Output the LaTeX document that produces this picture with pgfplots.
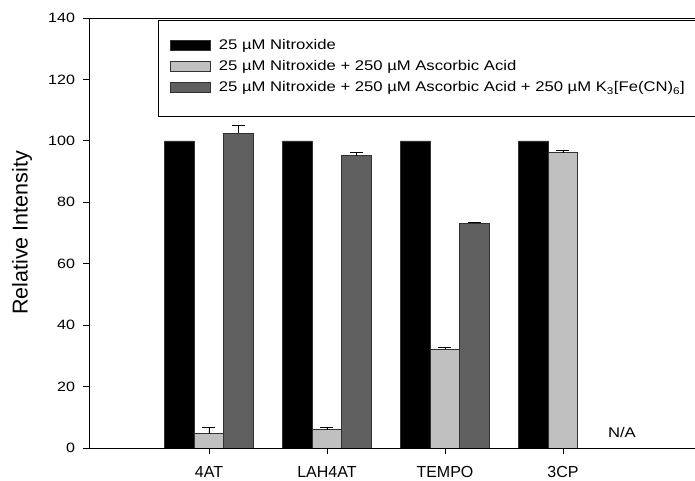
\documentclass[border=0pt]{standalone}
\usepackage{fontspec}
\setmainfont{Liberation Sans}[FakeStretch=1.19]
\newfontfamily\plainfont{Liberation Sans}
\usepackage{pgfplots}
\pgfplotsset{compat=1.18}
\definecolor{lightbar}{RGB}{192,192,192}
\definecolor{darkbar}{RGB}{96,96,96}
\definecolor{edge}{RGB}{50,50,50}
\begin{document}
\begin{tikzpicture}[font=\fontsize{14bp}{16bp}\selectfont]
\begin{axis}[
  at={(89bp,33bp)}, anchor=south west, scale only axis,
  width=606bp, height=430bp,
  xmin=-1.017, xmax=4.119, ymin=0, ymax=140,
  axis x line*=bottom, axis y line*=left,
  ybar, bar width=0.25,
  ytick={0,20,...,140},
  xtick={0,1,2,3}, xticklabels={4AT,LAH4AT,TEMPO,3CP},
  tick align=outside, major tick length=6bp,
  tick style={black, line width=0.8bp},
  axis line style={black, line width=0.8bp, -},
  /pgf/number format/assume math mode=true,
  yticklabel style={font=\fontsize{13.5bp}{15bp}\selectfont, xshift=-4.5bp},
  xticklabel style={font=\plainfont\fontsize{16bp}{18bp}\selectfont, yshift=-8.5bp},
  ylabel={Relative Intensity},
  every axis y label/.style={at={(axis description cs:0,0.5)}, xshift=-67bp, rotate=90, anchor=center,
    font=\plainfont\fontsize{21.5bp}{24bp}\selectfont},
  legend image code/.code={\draw[#1] (0bp,-5bp) rectangle (40bp,5bp);},
  legend style={draw=none, fill=none, at={(axis description cs:0.1337,0.955)}, anchor=north west,
    inner sep=0pt, row sep=5.5bp, column sep=6bp, font=\fontsize{14bp}{16bp}\selectfont},
  legend cell align=left,
]
\addplot[ybar, bar shift=-0.25, fill=black, draw=edge, line width=0.7bp]
  coordinates {(0,100) (1,100) (2,100) (3,100)};
\addlegendentry{25 µM Nitroxide}
\addplot[ybar, bar shift=0, fill=lightbar, draw=edge, line width=0.7bp,
  error bars/.cd, y dir=plus, y explicit,
  error bar style={black, line width=0.8bp},
  error mark options={rotate=90, mark size=6.5bp, black, line width=0.8bp}]
  coordinates {(0,4.7) +- (0,2.0) (1,6.0) +- (0,0.6) (2,32.1) +- (0,0.6) (3,96.2) +- (0,0.6)};
\addlegendentry{25 µM Nitroxide + 250 µM Ascorbic Acid}
\addplot[ybar, bar shift=0.25, fill=darkbar, draw=edge, line width=0.7bp,
  error bars/.cd, y dir=plus, y explicit,
  error bar style={black, line width=0.8bp},
  error mark options={rotate=90, mark size=6.5bp, black, line width=0.8bp}]
  coordinates {(0,102.5) +- (0,2.6) (1,95.2) +- (0,1.0) (2,73.2) +- (0,0.3)};
\addlegendentry{25 µM Nitroxide + 250 µM Ascorbic Acid + 250 µM K\textsubscript{3}[Fe(CN)\textsubscript{6}]}
\node at (axis cs:3.5,4.9) {N/A};
\draw[black, line width=0.8bp] (rel axis cs:0,1) -- (rel axis cs:1,1);
\end{axis}
\draw[line width=0.8bp] (695bp,365bp) -- (158bp,365bp) -- (158bp,461bp) -- (695bp,461bp);
\pgfresetboundingbox
\path (0,0) rectangle (695bp,481bp);
\end{tikzpicture}
\end{document}
